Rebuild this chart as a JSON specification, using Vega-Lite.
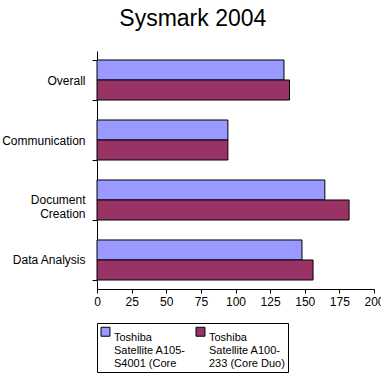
{
  "$schema": "https://vega.github.io/schema/vega-lite/v6.json",
  "width": 277,
  "height": 238,
  "autosize": {"type": "none"},
  "padding": {"left": 97, "top": 51, "right": 7, "bottom": 89},
  "background": "white",
  "title": {
    "text": "Sysmark 2004",
    "font": "Liberation Sans",
    "fontSize": 23,
    "fontWeight": "normal",
    "color": "black",
    "anchor": "middle",
    "frame": "bounds",
    "offset": 14
  },
  "data": {
    "values": [
      {"category": "Overall", "model": "A105", "score": 135},
      {"category": "Overall", "model": "A100", "score": 139},
      {"category": "Communication", "model": "A105", "score": 94.5},
      {"category": "Communication", "model": "A100", "score": 94.5},
      {"category": "Document Creation", "model": "A105", "score": 164.5},
      {"category": "Document Creation", "model": "A100", "score": 182},
      {"category": "Data Analysis", "model": "A105", "score": 148},
      {"category": "Data Analysis", "model": "A100", "score": 156}
    ]
  },
  "mark": {"type": "bar", "stroke": "black", "strokeWidth": 1, "opacity": 1},
  "encoding": {
    "y": {
      "field": "category",
      "type": "nominal",
      "sort": ["Overall", "Communication", "Document Creation", "Data Analysis"],
      "scale": {"paddingInner": 0.333, "paddingOuter": 0.15},
      "axis": {
        "title": null,
        "labelFont": "Liberation Sans",
        "labelFontSize": 12,
        "labelColor": "black",
        "labelExpr": "datum.value == 'Document Creation' ? ['Document', 'Creation'] : datum.value",
        "labelPadding": 7,
        "tickBand": "extent",
        "tickSize": 5,
        "tickColor": "black",
        "domainColor": "black",
        "labelLimit": 200
      }
    },
    "yOffset": {
      "field": "model",
      "type": "nominal",
      "sort": ["A105", "A100"],
      "scale": {"paddingInner": 0, "paddingOuter": 0}
    },
    "x": {
      "field": "score",
      "type": "quantitative",
      "scale": {"domain": [0, 200], "nice": false},
      "axis": {
        "title": null,
        "values": [0, 25, 50, 75, 100, 125, 150, 175, 200],
        "grid": false,
        "labelFont": "Liberation Sans",
        "labelFontSize": 12,
        "labelColor": "black",
        "tickColor": "black",
        "domainColor": "black",
        "tickSize": 4,
        "labelPadding": 3,
        "labelFlush": false,
        "labelOverlap": false
      }
    },
    "color": {
      "field": "model",
      "type": "nominal",
      "sort": ["A105", "A100"],
      "scale": {"domain": ["A105", "A100"], "range": ["#9999FF", "#993366"]},
      "legend": {
        "title": null,
        "orient": "none",
        "legendX": 0,
        "legendY": 272,
        "direction": "horizontal",
        "columns": 2,
        "columnPadding": 8,
        "padding": 3,
        "strokeColor": "black",
        "fillColor": "white",
        "symbolType": "square",
        "symbolSize": 80,
        "symbolStrokeColor": "black",
        "symbolStrokeWidth": 1,
        "symbolOpacity": 1,
        "labelFont": "Liberation Sans",
        "labelFontSize": 11,
        "labelLineHeight": 14,
        "labelColor": "black",
        "labelLimit": 200,
        "labelBaseline": "top",
        "labelOffset": 3,
        "labelExpr": "datum.value == 'A105' ? ['Toshiba', 'Satellite A105-', 'S4001 (Core'] : ['Toshiba', 'Satellite A100-', '233 (Core Duo)']"
      }
    }
  },
  "config": {
    "view": {"stroke": null},
    "axis": {"ticks": true}
  }
}
